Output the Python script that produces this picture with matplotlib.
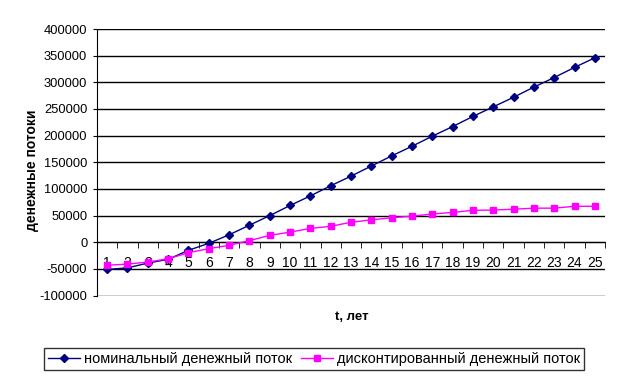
import matplotlib.pyplot as plt
from matplotlib.ticker import MultipleLocator, FixedLocator

plt.rcParams["font.family"] = ["Liberation Sans", "DejaVu Sans"]
plt.rcParams["axes.unicode_minus"] = False

years = list(range(1, 26))
nominal = [-51000, -48000, -39000, -32000, -15000, -2000, 14000, 32000, 50000,
           69000, 87000, 106000, 124000, 143000, 162000, 180000, 199000, 217000,
           236000, 254000, 272000, 291000, 309000, 328000, 346000]
discounted = [-43000, -41000, -37000, -31000, -19500, -12000, -5600, 3000, 13000,
              19000, 26000, 30000, 37500, 42000, 46000, 49000, 53000, 56000,
              60000, 60500, 62000, 64000, 64000, 67500, 67500]

fig = plt.figure(figsize=(6.23, 3.84), dpi=100)
ax = fig.add_axes([97 / 623, 1 - 295.6 / 384, (605 - 97) / 623, (295.6 - 29) / 384])

for y in range(-100000, 400001, 50000):
    ax.axhline(y, color="black", lw=1, zorder=1)

ax.plot(years, nominal, color="#000080", marker="D", markersize=4.5, lw=1,
        label="номинальный денежный поток", zorder=3)
ax.plot(years, discounted, color="#FF00FF", marker="s", markersize=5, lw=1,
        label="дисконтированный денежный поток", zorder=3)

ax.set_xlim(0.5, 25.5)
ax.set_ylim(-100000, 400000)
ax.yaxis.set_major_locator(MultipleLocator(50000))
ax.tick_params(axis="y", direction="out", length=3, labelsize=9.3, pad=4)

ax.spines["bottom"].set_position(("data", 0))
ax.spines["top"].set_visible(False)
ax.spines["right"].set_visible(False)
ax.set_xticks(years)
ax.xaxis.set_minor_locator(FixedLocator([k + 0.5 for k in range(0, 26)]))
ax.tick_params(axis="x", which="major", length=0, labelsize=10, pad=10)
ax.tick_params(axis="x", which="minor", length=4, direction="out")

ax.set_ylabel("денежные потоки", fontsize=10, fontweight="bold")
ax.yaxis.set_label_coords(-0.115, 0.47)
fig.text(352 / 623, 1 - 317 / 384, "t, лет", fontsize=9.5, fontweight="bold",
         ha="center", va="center")

leg = fig.legend(loc="center", bbox_to_anchor=(314 / 623, 1 - 359 / 384), ncol=2,
                 fontsize=10.5, frameon=True, fancybox=False, edgecolor="black",
                 handlelength=2.2, handletextpad=0.25, columnspacing=0.6,
                 borderpad=0.3, borderaxespad=0)
leg.get_frame().set_linewidth(1)

fig.savefig("out.png", dpi=100)
